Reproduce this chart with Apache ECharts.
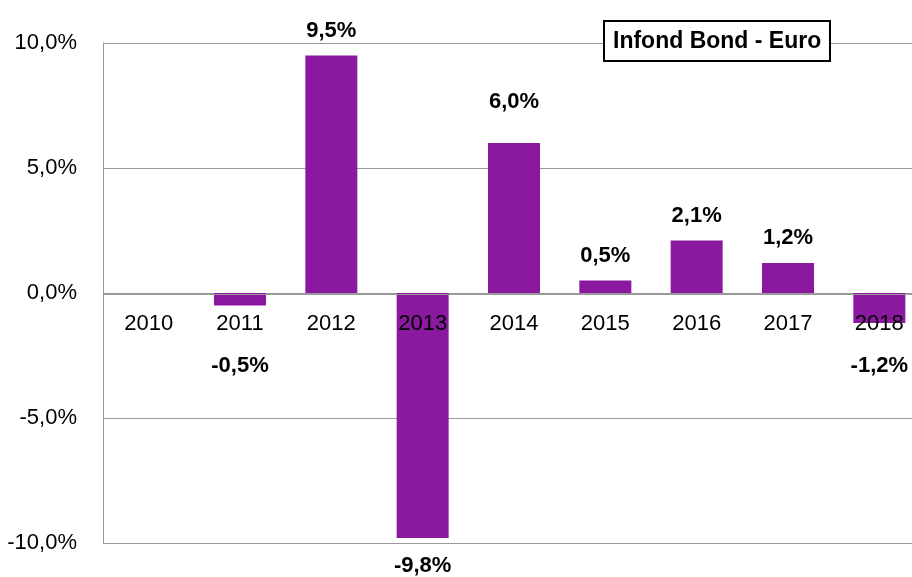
<!DOCTYPE html>
<html>
<head>
    <meta charset="UTF-8">
    <title>Infond Bond - Euro</title>
    <script src="https://cdn.jsdelivr.net/npm/echarts@6/dist/echarts.min.js"></script>
</head>
<body style="margin: 0;overflow: hidden;background: #fff;">
<div id="chart" style="width: 912px;height: 577px;"></div>
<script type="text/javascript">
    var years = ['2010', '2011', '2012', '2013', '2014', '2015', '2016', '2017', '2018'];
    var returns = [null, -0.5, 9.5, -9.8, 6.0, 0.5, 2.1, 1.2, -1.2];
    var yTicks = [-10, -5, 0, 5, 10];

    var font = '"Liberation Sans", Arial, sans-serif';
    var barColor = '#8a199f';

    function pct(v) {
        return v.toFixed(1).replace('.', ',') + '%';
    }

    // negative labels get pushed below the year labels
    var barData = returns.map(function (v, i) {
        if (v === null) return null;
        var item = {value: v};
        if (v < 0) {
            item.label = {position: 'bottom', distance: Math.max(17, 62 - Math.abs(v) * 25)};
        } else if (years[i] === '2014') {
            item.label = {distance: 30};
        }
        return item;
    });

    var chart = echarts.init(document.getElementById('chart'));
    var option = {
        animation: false,
        title: {
            text: 'Infond Bond - Euro',
            left: 604,
            top: 21,
            padding: [9, 9, 8, 9],
            borderColor: '#000',
            borderWidth: 2,
            backgroundColor: '#fff',
            textStyle: {
                fontFamily: font,
                fontWeight: 'bold',
                fontSize: 23,
                color: '#000'
            }
        },
        grid: {
            left: 103,
            right: -13,
            top: 43,
            bottom: 34,
            containLabel: false,
            outerBoundsMode: 'none'
        },
        xAxis: {
            type: 'category',
            data: years,
            z: 10,
            // onZero does not move the axis here, so shift it up to the 0% line
            offset: -249,
            axisLine: {onZero: false, lineStyle: {color: '#999', width: 1}},
            axisTick: {show: false},
            axisLabel: {
                margin: 19,
                color: '#000',
                fontFamily: font,
                fontSize: 22
            }
        },
        yAxis: {
            type: 'value',
            min: -10,
            max: 10,
            interval: 5,
            axisLine: {show: true, lineStyle: {color: '#999', width: 1}},
            axisTick: {show: false},
            splitLine: {lineStyle: {color: '#999', width: 1}},
            axisLabel: {
                margin: 26,
                color: '#000',
                fontFamily: font,
                fontSize: 22,
                customValues: yTicks,
                formatter: function (v) {
                    return pct(v);
                }
            }
        },
        series: [{
            type: 'bar',
            data: barData,
            barWidth: 52,
            itemStyle: {color: barColor},
            label: {
                show: true,
                position: 'top',
                distance: 14,
                color: '#000',
                fontFamily: font,
                fontWeight: 'bold',
                fontSize: 22,
                formatter: function (p) {
                    return pct(p.value);
                }
            }
        }]
    };
    chart.setOption(option);
</script>
</body>
</html>
